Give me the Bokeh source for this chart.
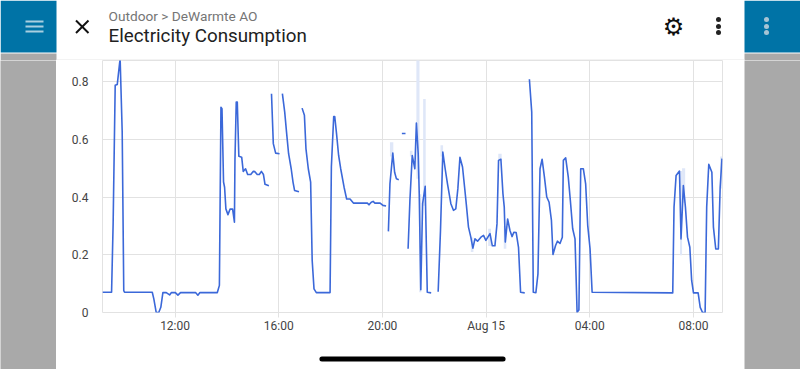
from bokeh.plotting import figure
from bokeh.layouts import column, row
from bokeh.models import FixedTicker, Range1d, Label
from bokeh.embed import file_html
from bokeh.resources import INLINE

GAP = float("nan")

# hours since 00:00 on Aug 14 (24 = Aug 15 00:00)
hours = [
 9.20,9.55,9.61,9.69,9.77,9.88,9.96,10.02,10.05,11.12,11.18,11.27,11.37,11.45,11.53,11.66,11.79,11.86,12.01,12.11,12.21,
 12.79,12.88,12.96,13.63,13.71,13.77,13.81,13.87,13.91,13.96,14.04,14.12,14.22,14.29,14.31,14.36,14.40,14.46,14.57,14.63,
 14.72,14.80,14.92,15.02,15.08,15.17,15.25,15.33,15.41,15.47,15.62,15.67,
 15.72,15.79,15.88,16.03,16.08,
 16.14,16.23,16.30,16.38,16.48,16.55,16.61,16.78,16.84,
 16.90,16.99,17.05,17.14,17.23,17.29,17.36,17.45,17.98,18.03,18.12,18.16,18.23,18.31,18.39,18.52,18.62,18.75,18.88,
 19.42,19.48,19.57,19.64,19.71,19.91,20.02,20.14,20.18,
 20.23,20.29,20.40,20.47,20.54,20.63,20.70,
 20.75,20.89,20.94,
 20.99,21.06,21.15,21.25,21.31,21.38,21.42,21.48,21.55,21.65,21.73,21.88,22.0,
 22.15,22.24,22.33,22.42,22.51,22.64,22.74,22.83,22.91,22.99,23.09,23.17,23.24,23.32,23.41,23.49,23.57,23.67,23.80,23.90,23.99,
 24.15,24.24,24.34,24.42,24.48,24.57,24.65,24.70,24.74,24.83,24.92,25.0,25.07,25.16,25.25,25.33,25.49,25.58,
 25.67,25.76,25.82,25.92,26.0,26.08,26.16,26.25,26.34,26.43,26.52,26.58,26.68,26.75,26.85,26.94,26.98,27.07,27.17,27.25,27.34,
 27.43,27.51,27.58,27.65,27.75,27.84,27.92,28.01,28.09,31.20,31.25,31.33,31.46,31.52,31.61,31.69,31.77,31.86,31.93,32.0,32.18,
 32.26,32.35,32.45,32.51,32.59,32.71,32.77,32.86,32.96,33.03,33.10,
]
consumption = [
 .07,.07,.307,.787,.79,.88,.625,.076,.07,.07,.047,.001,0,.018,.069,.069,.061,.069,.069,.06,.069,
 .069,.06,.069,.069,.094,.711,.706,.452,.434,.359,.339,.358,.358,.313,.527,.729,.729,.541,.538,.489,
 .498,.478,.478,.489,.488,.478,.478,.489,.478,.444,.439,GAP,
 .758,.585,.552,.55,GAP,
 .758,.694,.625,.55,.498,.452,.423,.418,GAP,
 .708,.683,.567,.498,.452,.18,.082,.069,.069,.504,.679,.679,.619,.544,.498,.434,.393,.393,.379,
 .379,.373,.382,.385,.379,.379,.371,.369,GAP,
 .281,.446,.552,.486,.463,.46,GAP,
 .62,.62,GAP,
 .221,.388,.544,.498,.656,.55,.411,.079,.377,.437,.07,.068,GAP,
 .072,.284,.556,.498,.446,.377,.354,.359,.429,.538,.504,.434,.371,.296,.261,.223,.255,.247,.261,.267,.25,
 .273,.231,.231,.307,.527,.531,.411,.365,.244,.324,.284,.263,.278,.277,.226,.07,.068,GAP,
 .808,.694,.07,.069,.134,.498,.531,.469,.40,.382,.319,.201,.232,.247,.239,.261,.527,.536,.469,.388,.29,
 .255,.001,.009,.498,.498,.446,.302,.221,.07,.068,.365,.475,.49,.255,.44,.365,.261,.226,.111,.068,.068,
 .018,0,0,.365,.513,.486,.296,.22,.22,.434,.533,
]
# min / max shading
band_start = [20.29,21.06,21.31,21.42,21.57,22.24,23.41,24.08,24.47,24.68,31.48,31.56,33.03]
band_end   = [20.42,21.16,21.43,21.50,21.67,22.34,23.51,24.19,24.60,24.78,31.56,31.68,33.12]
band_low   = [.54,.54,.463,.07,.37,.54,.21,.23,.527,.221,.198,.38,.43]
band_high  = [.59,.56,.90,.41,.74,.579,.26,.29,.55,.30,.49,.50,.54]

x_ticks = [12,16,20,24,28,32]
x_tick_labels = ["12:00","16:00","20:00","Aug 15","04:00","08:00"]
y_ticks = [0,.2,.4,.6,.8]
y_tick_labels = ["0","0.2","0.4","0.6","0.8"]
breadcrumb = "Outdoor > DeWarmte AO"
title = "Electricity Consumption"

GRID = "#e2e2e2"
BLUE = "#0073a6"
SIDE = "#a9a9a9"

# ---- chart ----
p = figure(width=688, height=280, output_backend="svg", toolbar_location=None,
           x_range=Range1d(9.2,33.12), y_range=Range1d(0,.873),
           min_border_left=46, min_border_right=22, min_border_top=0, min_border_bottom=28,
           background_fill_color="white", border_fill_color="white", outline_line_color=GRID)
p.xaxis.ticker = FixedTicker(ticks=x_ticks)
p.xaxis.major_label_overrides = dict(zip(x_ticks, x_tick_labels))
p.yaxis.ticker = FixedTicker(ticks=y_ticks)
p.yaxis.major_label_overrides = dict(zip(y_ticks, y_tick_labels))
for ax in (p.xaxis[0], p.yaxis[0]):
    ax.axis_line_color = None
    ax.minor_tick_line_color = None
    ax.major_label_text_font = "Roboto"
    ax.major_label_text_font_size = "12px"
    ax.major_label_text_color = "#444444"
p.xaxis[0].major_tick_line_color = GRID
p.xaxis[0].major_tick_in = 0
p.xaxis[0].major_tick_out = 5
p.xaxis[0].major_label_standoff = 1
p.yaxis[0].major_tick_line_color = None
p.yaxis[0].major_label_standoff = 8
p.xgrid.grid_line_color = GRID
p.ygrid.grid_line_color = GRID
p.xgrid.ticker = FixedTicker(ticks=x_ticks)
p.ygrid.ticker = FixedTicker(ticks=y_ticks)
p.quad(left=band_start, right=band_end, bottom=band_low, top=band_high,
       fill_color="#dfe7f8", line_color=None)
p.line(hours, consumption, line_color="#3b68d9", line_width=1.6, line_join="round")

# ---- app chrome: figures whose frame fills them, ranges in page pixels ----
def panel(w, h, x0, x1, y0, y1, bg="white"):
    f = figure(width=w, height=h, output_backend="svg", toolbar_location=None,
               x_range=Range1d(x0, x1), y_range=Range1d(y1, y0),
               x_axis_location=None, y_axis_location=None,
               min_border=0, outline_line_color=None,
               background_fill_color=bg, border_fill_color=bg)
    f.xgrid.visible = False
    f.ygrid.visible = False
    return f

header = panel(800, 60, 0, 800, 0, 60)
header.quad(left=[0,744], right=[56,800], top=[0,0], bottom=[52,52], fill_color=BLUE, line_color=None)
header.quad(left=[0,744], right=[56,800], top=[53,53], bottom=[60,60], fill_color=SIDE, line_color=None)
header.quad(left=[56], right=[744], top=[59], bottom=[60], fill_color="#e8e8e8", line_color=None)
header.multi_line(xs=[[25,43]]*3, ys=[[21,21],[26,26],[31,31]], line_color="#a9cfe0", line_width=2)
header.multi_line(xs=[[75.5,88],[88,75.5]], ys=[[20,32.5],[20,32.5]], line_color="#111111", line_width=2)
header.scatter(x=[718]*3, y=[19,26,32], size=5, marker="circle", fill_color="#222222", line_color=None)
header.scatter(x=[766]*3, y=[19,26,32], size=5, marker="circle", fill_color="#a6c4d4", line_color=None)
for x, y, text, size, color, font, align in [
    (108, 15, breadcrumb, "13.7px", "#757575", "Roboto", "left"),
    (108, 35, title, "18.8px", "#212121", "Roboto", "left"),
    (673, 26, "\u2699", "24px", "#111111", "DejaVu Sans", "center"),
]:
    header.add_layout(Label(x=x, y=y, text=text, text_font=font, text_font_size=size,
                            text_color=color, text_align=align, text_baseline="middle"))

left = panel(56, 309, 0, 56, 60, 369, SIDE)
right = panel(56, 309, 744, 800, 60, 369, SIDE)

home = panel(688, 29, 56, 744, 340, 369)
home.line([299.5,500.5], [358.5,358.5], line_color="#000000", line_width=5, line_cap="round")

page = column(header, row(left, column(p, home), right))

open("out.html", "w").write(file_html(page, INLINE))
